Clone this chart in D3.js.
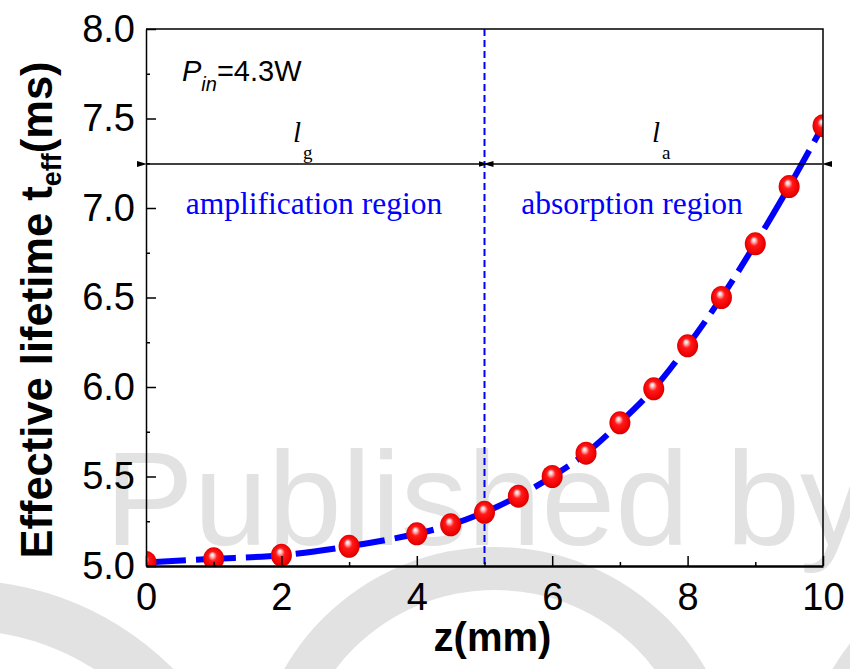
<!DOCTYPE html>
<html>
<head>
<meta charset="utf-8">
<script src="https://cdn.jsdelivr.net/npm/d3@7"></script>
<style>
  body { margin: 0; background: #fff; }
  svg { display: block; }
</style>
</head>
<body>
<svg id="chart" width="850" height="669"></svg>
<script>
/**
 * Data
 */
var zValues = [0, 1, 2, 3, 4, 4.5, 5, 5.5, 6, 6.5, 7, 7.5, 8, 8.5, 9, 9.5, 10];
var tauValues = [5.02, 5.04, 5.06, 5.11, 5.18, 5.23, 5.30, 5.39, 5.50, 5.63, 5.80, 5.99, 6.23, 6.50, 6.80, 7.12, 7.46];
var xTicks = [0, 2, 4, 6, 8, 10];
var xMinorTicks = [1, 3, 5, 7, 9];
var yTicks = [5.0, 5.5, 6.0, 6.5, 7.0, 7.5, 8.0];
var yMinorTicks = [5.25, 5.75, 6.25, 6.75, 7.25, 7.75];
var boundaryZ = 5;

window.onload = function(){
    drawChart();
};

function drawChart(){
    let svg = d3.select("#chart");

    // plot area
    let left = 146, right = 823, top = 29, bottom = 566;

    let xScale = d3.scaleLinear().domain([0, 10]).range([left, right]);
    let yScale = d3.scaleLinear().domain([5, 8]).range([bottom, top]);

    let defs = svg.append("defs");
    defs.append("clipPath").attr("id", "plotClip")
        .append("rect")
        .attr("x", left).attr("y", top)
        .attr("width", right - left).attr("height", bottom - top);

    let grad = defs.append("radialGradient")
        .attr("id", "ball")
        .attr("cx", "50%").attr("cy", "50%").attr("r", "55%")
        .attr("fx", "42%").attr("fy", "32%");
    grad.append("stop").attr("offset", "0%").attr("stop-color", "#ffffff");
    grad.append("stop").attr("offset", "14%").attr("stop-color", "#ffc8c8");
    grad.append("stop").attr("offset", "38%").attr("stop-color", "#ff1a1a");
    grad.append("stop").attr("offset", "80%").attr("stop-color", "#f00000");
    grad.append("stop").attr("offset", "100%").attr("stop-color", "#b80000");

    defs.append("marker").attr("id", "arrowL")
        .attr("viewBox", "0 0 10 6").attr("refX", 0).attr("refY", 3)
        .attr("markerWidth", 10).attr("markerHeight", 6)
        .attr("markerUnits", "userSpaceOnUse").attr("orient", "auto-start-reverse")
        .append("path").attr("d", "M10,0 L0,3 L10,6 Z").attr("fill", "#000");

    // watermark behind everything
    let wm = svg.append("g").attr("fill", "#e2e2e2");
    let ring = d3.arc();
    wm.append("path")
        .attr("transform", "translate(-40,880)")
        .attr("d", ring({innerRadius: 250, outerRadius: 300, startAngle: -0.3, endAngle: Math.PI}));
    wm.append("path")
        .attr("transform", "translate(495,790)")
        .attr("d", ring({innerRadius: 200, outerRadius: 243, startAngle: -Math.PI / 2, endAngle: Math.PI / 2}));
    wm.append("path")
        .attr("transform", "translate(1080,820)")
        .attr("d", ring({innerRadius: 250, outerRadius: 290, startAngle: -Math.PI / 2, endAngle: -Math.PI / 6}));
    wm.append("text")
        .attr("x", 105).attr("y", 545)
        .style("font-family", "'Liberation Sans', Arial, sans-serif")
        .style("font-size", "133px")
        .text("Published by");

    // plot contents
    let plot = svg.append("g").attr("clip-path", "url(#plotClip)");

    plot.append("line")
        .attr("x1", xScale(boundaryZ)).attr("x2", xScale(boundaryZ))
        .attr("y1", top).attr("y2", bottom)
        .style("stroke", "#0000ff").style("stroke-width", 2)
        .style("stroke-dasharray", "7,4");

    let points = zValues.map(function(z, i){ return [z, tauValues[i]]; });
    let line = d3.line()
        .x(function(d){ return xScale(d[0]); })
        .y(function(d){ return yScale(d[1]); })
        .curve(d3.curveCatmullRom);
    plot.append("path")
        .datum(points)
        .attr("d", line)
        .style("fill", "none")
        .style("stroke", "#0000ff")
        .style("stroke-width", 6)
        .style("stroke-dasharray", "40,10");

    plot.selectAll("ellipse")
        .data(points)
        .enter()
        .append("ellipse")
        .attr("cx", function(d){ return xScale(d[0]); })
        .attr("cy", function(d){ return yScale(d[1]); })
        .attr("rx", 10.5)
        .attr("ry", 11.5)
        .style("fill", "url(#ball)");

    // region arrows
    let arrowY = 164;
    let arrows = svg.append("g").style("stroke", "#000").style("stroke-width", 1.5);
    arrows.append("line")
        .attr("x1", left + 1).attr("x2", xScale(boundaryZ) - 1)
        .attr("y1", arrowY).attr("y2", arrowY)
        .attr("marker-start", "url(#arrowL)").attr("marker-end", "url(#arrowL)");
    arrows.append("line")
        .attr("x1", xScale(boundaryZ) + 4).attr("x2", right - 1)
        .attr("y1", arrowY).attr("y2", arrowY)
        .attr("marker-start", "url(#arrowL)").attr("marker-end", "url(#arrowL)");

    let serif = "'Liberation Serif', 'Times New Roman', serif";
    let lg = svg.append("text").attr("x", 293).attr("y", 142)
        .style("font-family", serif).style("font-size", "29px");
    lg.append("tspan").style("font-style", "italic").text("l");
    lg.append("tspan").attr("dx", 2).attr("dy", 17).style("font-size", "19px").text("g");

    let la = svg.append("text").attr("x", 652).attr("y", 142)
        .style("font-family", serif).style("font-size", "29px");
    la.append("tspan").style("font-style", "italic").text("l");
    la.append("tspan").attr("dx", 2).attr("dy", 17).style("font-size", "19px").text("a");

    svg.append("text")
        .attr("x", 314).attr("y", 214)
        .attr("text-anchor", "middle")
        .style("font-family", serif).style("font-size", "31.5px")
        .style("fill", "#0000ff")
        .text("amplification region");
    svg.append("text")
        .attr("x", 632).attr("y", 214)
        .attr("text-anchor", "middle")
        .style("font-family", serif).style("font-size", "31.5px")
        .style("fill", "#0000ff")
        .text("absorption region");

    let sans = "'Liberation Sans', Arial, sans-serif";
    let pin = svg.append("text").attr("x", 182).attr("y", 81)
        .style("font-family", sans).style("font-size", "29px");
    pin.append("tspan").style("font-style", "italic").text("P");
    pin.append("tspan").attr("dy", 10).style("font-style", "italic").style("font-size", "20px").text("in");
    pin.append("tspan").attr("dy", -10).text("=4.3W");

    // axes
    let yAxis = d3.axisLeft(yScale)
        .tickValues(yTicks)
        .tickFormat(d3.format(".1f"))
        .tickSizeInner(-10).tickSizeOuter(0)
        .tickPadding(11);
    let gy = svg.append("g").attr("transform", "translate(" + left + ",0)").call(yAxis);

    let yMinor = d3.axisLeft(yScale).tickValues(yMinorTicks)
        .tickFormat("").tickSizeInner(-4).tickSizeOuter(0);
    svg.append("g").attr("transform", "translate(" + left + ",0)").call(yMinor)
        .select(".domain").remove();

    let xAxis = d3.axisBottom(xScale)
        .tickValues(xTicks)
        .tickFormat(d3.format("d"))
        .tickSizeInner(-10).tickSizeOuter(0)
        .tickPadding(17);
    let gx = svg.append("g").attr("transform", "translate(0," + bottom + ")").call(xAxis);

    let xMinor = d3.axisBottom(xScale).tickValues(xMinorTicks)
        .tickFormat("").tickSizeInner(-4).tickSizeOuter(0);
    svg.append("g").attr("transform", "translate(0," + bottom + ")").call(xMinor)
        .select(".domain").remove();

    svg.selectAll(".tick line").style("stroke", "#000").style("stroke-width", 1.5);
    gy.select(".domain").style("stroke-width", 1.5);
    gx.select(".domain").style("stroke-width", 2.5);
    [gx, gy].forEach(function(g){
        g.selectAll(".tick text")
            .style("font-family", sans)
            .style("font-size", "38px")
            .style("fill", "#000");
    });

    // frame top and right
    svg.append("path")
        .attr("d", "M" + left + "," + top + "H" + right + "V" + bottom)
        .style("fill", "none").style("stroke", "#000").style("stroke-width", 1.5);

    // axis titles
    svg.append("text")
        .attr("x", (left + right) / 2 + 8).attr("y", 651)
        .attr("text-anchor", "middle")
        .style("font-family", sans).style("font-weight", "bold").style("font-size", "40px")
        .text("z(mm)");

    let yt = svg.append("text")
        .attr("transform", "translate(52,310) rotate(-90)")
        .attr("text-anchor", "middle")
        .style("font-family", sans).style("font-weight", "bold").style("font-size", "43.5px");
    yt.append("tspan").text("Effective lifetime t");
    yt.append("tspan").attr("dy", 9).style("font-size", "27px").text("eff");
    yt.append("tspan").attr("dy", -9).text("(ms)");
}
</script>
</body>
</html>
